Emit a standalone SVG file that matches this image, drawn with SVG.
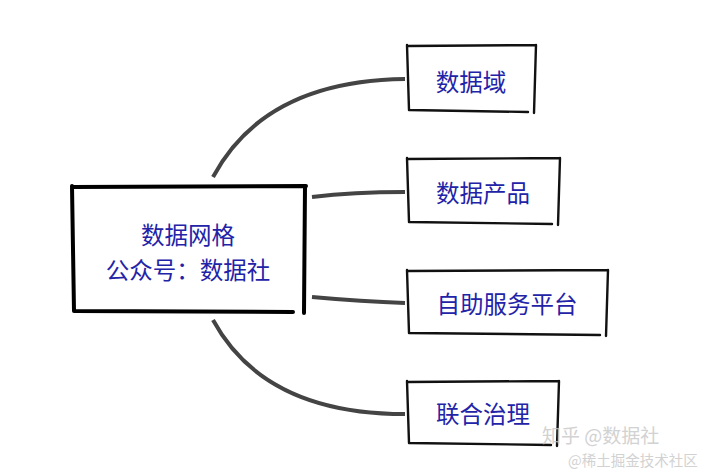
<svg xmlns="http://www.w3.org/2000/svg" width="717" height="476" viewBox="0 0 717 476">
<style>
.box{fill:none;stroke:#111;stroke-width:2.4;stroke-linecap:round;stroke-linejoin:round}
.main{fill:none;stroke:#000;stroke-width:4;stroke-linecap:round;stroke-linejoin:round}
.lbl{font-family:"Noto Sans CJK SC","Noto Sans",sans-serif;font-size:23.5px;fill:#2323a8;text-anchor:middle;dominant-baseline:central}
.conn{fill:none;stroke:#444;stroke-width:4;stroke-linecap:butt}
.wm{font-family:"Noto Sans CJK SC",sans-serif;fill:#c8c8c8;opacity:0.8}
</style>
<rect width="717" height="476" fill="#fff"/>
<g id="connectors">
<path class="conn" d="M213,177 C250,108 320,80 405,79"/>
<path class="conn" d="M312,197 C345,193 375,192 405,192"/>
<path class="conn" d="M312,297 C345,300 375,302 405,303"/>
<path class="conn" d="M213,320 C250,388 320,414 405,414"/>
</g>
<g id="n0">
<path class="main" d="M72,187 L306,186 M72,186 L74,311 M74,311 L293,312 M305,186 L304,313"/>
<text class="lbl" x="188" y="234">数据网格</text>
<text class="lbl" x="188" y="269">公众号：数据社</text>
</g>
<g id="n1">
<path class="box" d="M407,46 L536,45 M407,45 L409,110 M409,110 L528,112 M536,45 L534,113"/>
<text class="lbl" x="471" y="81">数据域</text>
</g>
<g id="n2">
<path class="box" d="M407,159 L560,158 M407,158 L409,222 M409,222 L552,224 M560,158 L558,225"/>
<text class="lbl" x="483" y="192">数据产品</text>
</g>
<g id="n3">
<path class="box" d="M407,271 L608,270 M407,270 L409,333 M409,333 L600,335 M608,270 L606,336"/>
<text class="lbl" x="507" y="303">自助服务平台</text>
</g>
<g id="n4">
<path class="box" d="M407,382 L559,381 M407,381 L409,443 M409,443 L551,445 M559,381 L557,446"/>
<text class="lbl" x="483" y="413">联合治理</text>
</g>
<g id="watermark">
<text class="wm" x="542" y="443" font-size="19">知乎 @数据社</text>
<text class="wm" x="568" y="466" font-size="14.5">@稀土掘金技术社区</text>
</g>
</svg>
